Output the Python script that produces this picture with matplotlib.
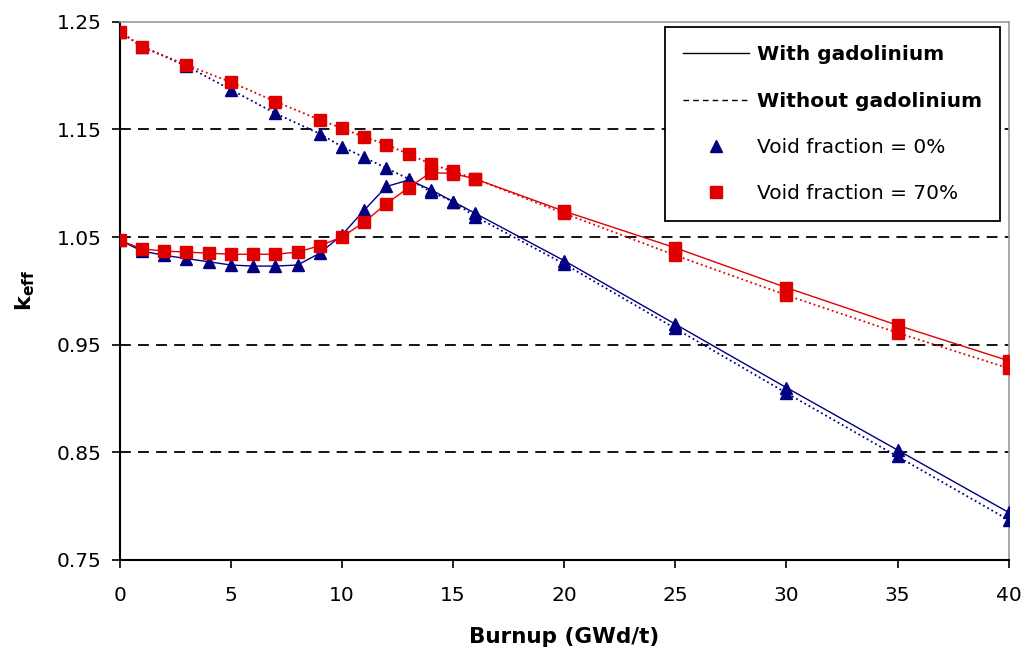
import matplotlib
matplotlib.use("Agg")
import matplotlib.pyplot as plt
from matplotlib.lines import Line2D

# burnup steps (GWd/t)
burnup_gd = [0, 1, 2, 3, 4, 5, 6, 7, 8, 9, 10, 11, 12, 13, 14, 15, 16, 20, 25, 30, 35, 40]
burnup_nogd = [0, 1, 3, 5, 7, 9, 10, 11, 12, 13, 14, 15, 16, 20, 25, 30, 35, 40]

# k_eff, void fraction 0%
keff_v0_gd = [1.047, 1.037, 1.033, 1.030, 1.027, 1.024, 1.023, 1.023, 1.024, 1.035, 1.052,
              1.075, 1.097, 1.103, 1.094, 1.083, 1.072, 1.028, 0.969, 0.910, 0.852, 0.794]
keff_v0_nogd = [1.241, 1.227, 1.209, 1.187, 1.165, 1.146, 1.134, 1.124, 1.114, 1.104,
                1.092, 1.083, 1.069, 1.025, 0.965, 0.905, 0.846, 0.787]

# k_eff, void fraction 70%
keff_v70_gd = [1.047, 1.039, 1.037, 1.036, 1.035, 1.034, 1.034, 1.034, 1.036, 1.042, 1.050,
               1.064, 1.081, 1.096, 1.110, 1.109, 1.104, 1.074, 1.040, 1.003, 0.968, 0.935]
keff_v70_nogd = [1.241, 1.227, 1.210, 1.194, 1.176, 1.159, 1.151, 1.143, 1.136, 1.127,
                 1.118, 1.111, 1.104, 1.072, 1.033, 0.996, 0.961, 0.928]

blue = '#000080'
red = '#E00000'

plt.rcParams['font.family'] = ['DejaVu Sans']
fig = plt.figure(figsize=(10.24, 6.64), dpi=100)
ax = fig.add_axes([0.117, 0.157, 0.868, 0.81])

for y in [1.15, 1.05, 0.95, 0.85]:
    ax.axhline(y, color='black', lw=1.3, ls=(0, (6, 4)), zorder=1)

ax.plot(burnup_nogd, keff_v0_nogd, color=blue, ls=':', lw=1.3, marker='^', ms=8, zorder=3)
ax.plot(burnup_gd, keff_v0_gd, color=blue, ls='-', lw=1.0, marker='^', ms=8, zorder=3)
ax.plot(burnup_nogd, keff_v70_nogd, color=red, ls=':', lw=1.3, marker='s', ms=9, zorder=4)
ax.plot(burnup_gd, keff_v70_gd, color=red, ls='-', lw=1.0, marker='s', ms=9, zorder=4)

ax.set_xlim(0, 40)
ax.set_ylim(0.75, 1.25)
ax.set_xticks(range(0, 41, 5))
ax.set_yticks([0.75, 0.85, 0.95, 1.05, 1.15, 1.25])
ax.set_yticklabels(['0.75', '0.85', '0.95', '1.05', '1.15', '1.25'])
ax.tick_params(direction='out', length=6, width=1.2, labelsize=14.5, pad=7)
ax.tick_params(axis='x', pad=13)
ax.spines['left'].set_linewidth(1.5)
ax.spines['bottom'].set_linewidth(1.5)
ax.spines['top'].set_color('#999999')
ax.spines['right'].set_color('#999999')
ax.spines['top'].set_linewidth(1.2)
ax.spines['right'].set_linewidth(1.2)

ax.set_xlabel('Burnup (GWd/t)', fontsize=15.5, fontweight='bold', labelpad=16)
ax.set_ylabel(r'k$_{\mathbf{eff}}$', fontsize=16, fontweight='bold', labelpad=14)

handles = [
    Line2D([], [], color='black', lw=1.0, ls='-'),
    Line2D([], [], color='black', lw=1.0, ls=(0, (4, 3))),
    Line2D([], [], color=blue, ls='none', marker='^', ms=8),
    Line2D([], [], color=red, ls='none', marker='s', ms=9),
]
labels = ['With gadolinium', 'Without gadolinium', 'Void fraction = 0%', 'Void fraction = 70%']
leg = ax.legend(handles, labels, loc='upper right', bbox_to_anchor=(0.99, 0.99),
                fontsize=14.5, frameon=True, fancybox=False, edgecolor='black',
                framealpha=1, handlelength=3.3, labelspacing=1.35, borderpad=0.9,
                handletextpad=0.35, borderaxespad=0.0)
leg.get_frame().set_linewidth(1.3)
for t in leg.get_texts()[:2]:
    t.set_fontweight('bold')

fig.savefig('out.png', dpi=100)
